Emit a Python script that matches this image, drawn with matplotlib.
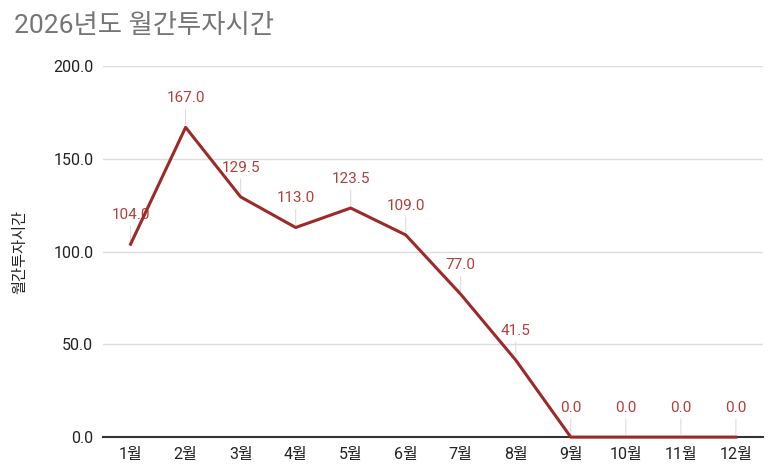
import matplotlib.pyplot as plt

plt.rcParams['font.family'] = ['Roboto', 'Noto Sans CJK KR', 'DejaVu Sans']

months = ['1월', '2월', '3월', '4월', '5월', '6월', '7월', '8월', '9월', '10월', '11월', '12월']
hours = [104.0, 167.0, 129.5, 113.0, 123.5, 109.0, 77.0, 41.5, 0.0, 0.0, 0.0, 0.0]
yticks = [0, 50, 100, 150, 200]

fig = plt.figure(figsize=(7.75, 4.69), dpi=100)
ax = fig.add_axes([0.133, 0.068, 0.852, 0.791])

x = list(range(1, len(months) + 1))
ax.plot(x, hours, color='#9b2a28', lw=2.2, zorder=5, clip_on=False)

for xi, v in zip(x, hours):
    ax.annotate(f'{v:.1f}', xy=(xi, v), xytext=(0, 21), textcoords='offset points',
                ha='center', va='center', fontsize=11, color='#b0403c',
                arrowprops=dict(arrowstyle='-', color='#dddddd', lw=0.8, shrinkA=1, shrinkB=2))

ax.set_xlim(0.5, 12.5)
ax.set_ylim(0, 200)
ax.set_xticks(x)
ax.set_xticklabels(months)
ax.set_yticks(yticks)
ax.set_yticklabels([f'{t:.1f}' for t in yticks])
ax.tick_params(length=0, labelsize=11.5, colors='#222222', pad=7)
ax.grid(axis='y', color='#dddddd', lw=1)
ax.set_axisbelow(True)
for s in ['top', 'right', 'left']:
    ax.spines[s].set_visible(False)
ax.spines['bottom'].set_color('#333333')
ax.spines['bottom'].set_linewidth(1.5)
ax.spines['bottom'].set_zorder(4)

ax.set_ylabel('월간투자시간', family=['Noto Sans CJK KR'], fontsize=11, color='#222222', labelpad=18)

fig.text(0.018, 0.945, '2026년도 월간투자시간', fontsize=19, color='#757575', va='center', ha='left')

fig.savefig('out.png', dpi=100)
